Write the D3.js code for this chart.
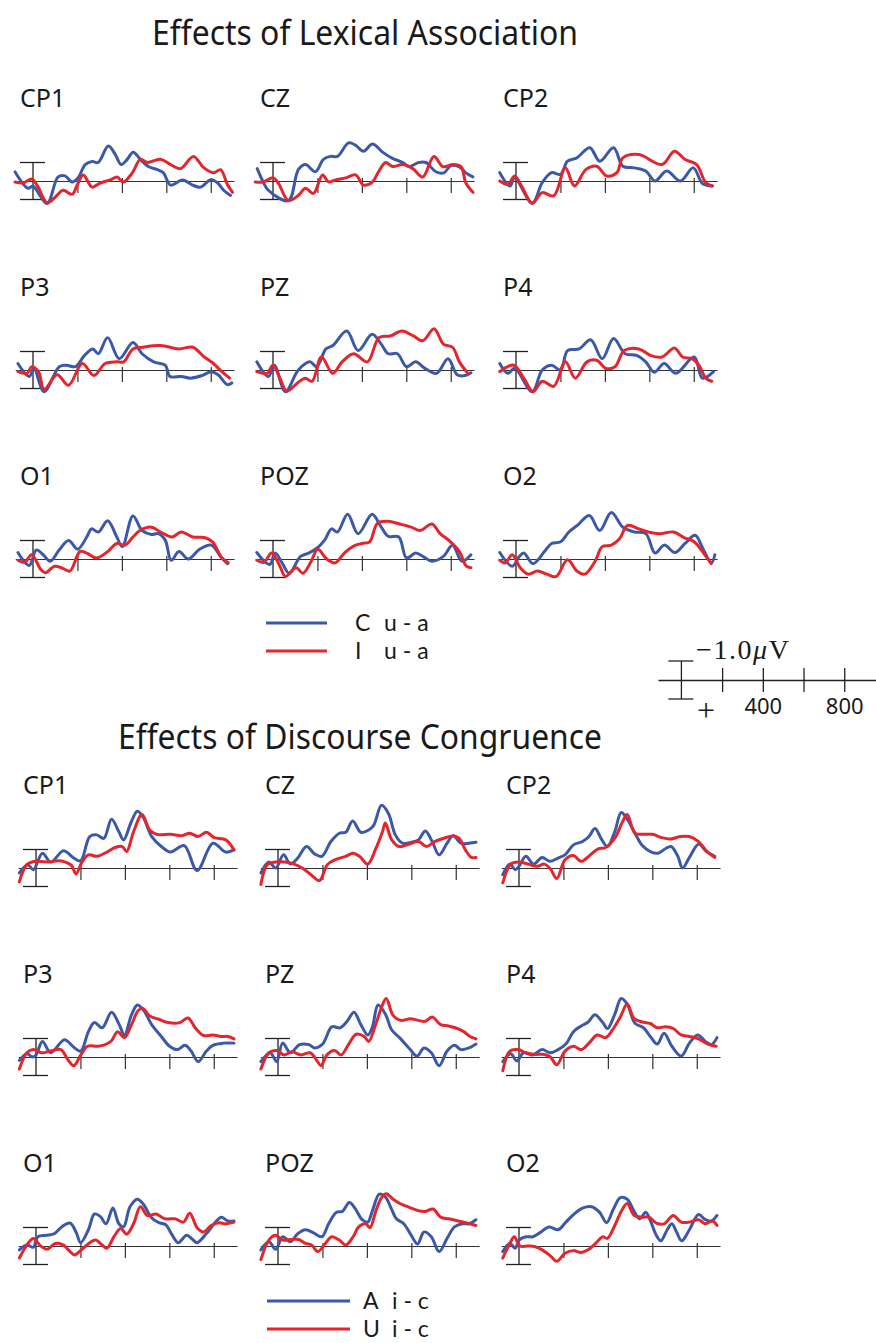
<!DOCTYPE html>
<html>
<head>
<meta charset="utf-8">
<script src="https://cdn.jsdelivr.net/npm/d3@7"></script>
<style>
html, body { margin: 0; padding: 0; background: #fff; }
svg { display: block; }
</style>
</head>
<body>
<div id="container"></div>
<script>
// electrode sites, same grid in both halves of the figure
const channels = ["CP1", "CZ", "CP2", "P3", "PZ", "P4", "O1", "POZ", "O2"];

// difference waves, [time in ms, amplitude in uV], negative plotted up
const lexicalC = [
  [[-81,-0.5],[-23,0.39],[0,0.28],[63,1.22],[113,-0.22],[144,-0.28],[176,0.06],[203,-0.17],[235,-0.89],[266,-1.06],[293,-1.0],[339,-1.89],[370,-1.44],[397,-0.89],[424,-1.17],[451,-1.56],[483,-1.17],[519,-0.78],[560,-0.61],[587,-0.44],[619,0.22],[673,-0.06],[718,0.22],[754,0.33],[799,-0.06],[831,0.11],[858,0.5],[889,0.78]],
  [[-71,-0.67],[-44,0.05],[-21,0.5],[69,1.06],[114,-0.61],[146,-0.89],[191,-0.5],[227,-1.17],[259,-1.33],[290,-1.33],[340,-2.06],[371,-1.94],[407,-1.61],[448,-2.0],[493,-1.56],[538,-1.22],[584,-1.0],[611,-0.78],[656,-1.0],[688,-1.0],[733,-0.5],[769,-0.44],[800,-0.83],[836,-0.78],[868,-0.44],[900,-0.22]],
  [[-73,-0.45],[-27,0.27],[-6,-0.18],[73,1.2],[118,0.09],[160,-0.45],[201,-0.36],[232,-1.07],[274,-1.25],[332,-1.8],[377,-1.07],[439,-1.8],[481,-0.8],[533,-0.71],[584,-0.54],[626,0],[678,-0.54],[740,0],[798,-0.71],[839,0.14],[881,0.27]],
  [[-68,-0.35],[-17,0.35],[4,-0.09],[50,1.17],[118,-0.18],[149,-0.26],[191,-0.18],[232,-0.79],[269,-1.14],[294,-0.88],[336,-1.75],[388,-0.61],[450,-1.49],[491,-0.88],[543,-0.44],[595,-0.26],[616,0.35],[667,0.35],[709,0.44],[761,0.3],[802,0.09],[833,0.26],[875,0.79],[895,0.7]],
  [[-73,-0.44],[-21,0.35],[6,-0.26],[56,1.17],[114,0],[166,-0.44],[197,-0.18],[238,-1.14],[269,-1.32],[332,-2.11],[383,-1.05],[446,-1.93],[487,-1.4],[518,-0.88],[560,-0.88],[601,-0.18],[642,-0.44],[684,-0.09],[736,0.18],[788,-0.61],[829,0.26],[865,0.3],[891,0.15]],
  [[-73,-0.35],[-37,0.18],[-6,-0.09],[73,1.17],[118,0],[160,-0.26],[201,0],[232,-1.05],[284,-1.14],[336,-1.63],[388,-0.61],[439,-1.7],[491,-0.88],[543,-0.79],[584,-0.44],[622,0.12],[667,-0.35],[719,0.18],[802,-0.7],[839,0.44],[889,0.09]],
  [[-68,-0.35],[-17,0.35],[15,-0.49],[46,-0.23],[77,0.12],[118,-0.49],[160,-1.0],[201,-0.53],[242,-1.19],[263,-1.63],[294,-1.46],[336,-2.07],[377,-1.19],[402,-0.67],[450,-2.33],[491,-1.54],[533,-1.33],[564,-1.37],[595,-1.02],[622,0.07],[657,-0.4],[699,0],[750,-0.53],[802,-0.75],[844,-0.14],[875,0.25]],
  [[-73,-0.35],[-15,0.3],[10,-0.32],[41,0.21],[73,0.77],[124,-0.14],[160,-0.32],[197,-0.58],[234,-1.05],[263,-1.63],[290,-1.46],[336,-2.42],[383,-1.37],[446,-2.42],[483,-1.81],[518,-1.23],[566,-1.19],[601,-0.05],[642,-0.32],[680,-0.1],[715,0.12],[767,-0.14],[808,-0.74],[850,0.12],[891,-0.23]],
  [[-73,-0.35],[-17,0.39],[15,-0.14],[35,-0.32],[77,0.25],[128,-0.4],[160,-0.84],[201,-0.93],[238,-1.46],[280,-1.86],[330,-2.35],[377,-1.54],[429,-2.51],[481,-1.72],[533,-1.46],[584,-1.37],[626,-0.32],[667,-0.75],[715,-0.35],[761,-0.84],[806,-1.28],[844,-0.49],[879,0.21],[895,-0.23]]
];

const lexicalI = [
  [[-81,0.05],[-45,0.1],[-5,-0.1],[23,0.33],[63,1.17],[99,0.89],[135,0.5],[176,0.72],[199,0.22],[226,-0.33],[266,0.33],[302,0.11],[348,-0.06],[379,-0.22],[406,0.06],[447,-0.44],[483,-1.17],[515,-1.0],[573,-1.17],[619,-0.89],[664,-0.67],[722,-1.33],[768,-0.72],[813,-0.44],[844,-0.61],[876,0.22],[898,0.61]],
  [[-80,0.05],[-44,0.05],[1,-0.17],[24,0.11],[69,1.06],[114,0.78],[146,0.39],[182,0.67],[223,-0.33],[250,0.05],[281,-0.06],[327,-0.17],[372,-0.33],[407,0.22],[448,0.05],[475,-0.5],[507,-1.0],[538,-0.78],[584,-0.89],[629,-0.67],[674,-0.22],[724,-1.33],[765,-0.78],[810,-0.89],[846,-0.78],[868,0.11],[900,0.61]],
  [[-73,0],[-37,0.18],[-6,-0.27],[25,0.27],[73,1.2],[118,0.63],[170,0.8],[222,-0.71],[263,0.27],[315,-0.63],[363,-0.8],[408,-0.27],[454,-0.45],[481,-1.25],[553,-1.43],[657,-0.89],[713,-1.61],[761,-1.16],[813,-0.89],[854,0.09],[885,0.27]],
  [[-68,0.09],[-27,0.18],[-6,-0.18],[25,0.09],[50,1.05],[108,0.26],[160,0.82],[222,-0.35],[274,0.3],[325,-0.35],[377,-0.44],[408,-0.44],[450,-1.14],[491,-1.23],[574,-1.32],[657,-1.14],[719,-1.23],[771,-0.7],[812,-0.35],[850,0.09],[885,0.44]],
  [[-73,0.09],[-27,0.18],[0,-0.26],[31,0.44],[62,1.14],[110,0.7],[145,0.44],[176,0.61],[218,-0.7],[269,0.18],[311,-0.44],[363,-0.88],[425,-0.44],[477,-1.75],[528,-1.84],[580,-2.11],[632,-1.84],[674,-1.58],[725,-2.23],[767,-1.4],[808,-1.23],[839,-0.44],[877,0.18]],
  [[-73,0.09],[-10,-0.26],[35,0.44],[77,1.17],[118,0.61],[170,0.88],[222,-0.44],[267,0.44],[319,-0.44],[363,-0.53],[404,-0.09],[446,-0.18],[487,-1.05],[553,-1.14],[605,-0.79],[657,-0.7],[713,-1.19],[750,-0.7],[792,-0.61],[823,-0.26],[854,0.44],[881,0.61]],
  [[-68,0.07],[-37,0.18],[-6,-0.23],[35,0.56],[56,0.74],[97,0.39],[128,0.47],[166,0.65],[211,-0.4],[242,-0.32],[284,-0.05],[336,-0.4],[377,-0.84],[415,-0.75],[450,-1.19],[481,-1.54],[533,-1.72],[574,-1.46],[626,-1.19],[667,-1.46],[719,-1.19],[771,-1.16],[808,-0.93],[850,-0.05],[879,0.21]],
  [[-73,0.07],[-41,0.18],[-6,-0.32],[31,0.39],[56,0.95],[104,0.47],[135,0.77],[172,0.12],[201,-0.53],[242,0],[280,0.21],[321,-0.32],[363,-0.7],[400,-0.84],[435,-0.93],[470,-1.93],[518,-2.04],[570,-1.89],[622,-1.72],[663,-1.54],[715,-1.89],[752,-1.37],[794,-0.98],[839,-0.4],[870,0.39],[891,0.47]],
  [[-73,0.07],[-48,0.21],[-17,-0.23],[19,0.47],[56,0.82],[97,0.65],[139,0.82],[180,0.95],[232,0.04],[274,0.65],[309,0.82],[356,0.12],[388,-0.67],[429,-0.75],[466,-1.1],[502,-1.81],[553,-1.63],[595,-1.46],[647,-1.37],[709,-1.46],[756,-1.16],[802,-0.93],[844,-0.32],[879,0.25]]
];

const discourseA = [
  [[-75,0.27],[-37,-0.18],[-12,0.09],[29,-0.8],[66,-0.32],[124,-0.93],[170,-0.54],[201,-0.39],[242,-1.7],[274,-1.79],[305,-1.6],[340,-2.64],[373,-1.96],[394,-1.52],[429,-2.5],[456,-3.07],[481,-2.77],[522,-1.68],[564,-1.16],[605,-0.86],[667,-1.21],[725,0.14],[796,-1.34],[854,-0.86],[891,-0.98]],
  [[-77,0.27],[-41,-0.32],[-10,0],[25,-0.71],[56,-0.21],[89,-0.54],[128,-1.16],[166,-0.75],[197,-0.63],[238,-1.43],[276,-1.88],[305,-1.93],[336,-2.54],[373,-1.93],[408,-2.05],[431,-2.32],[466,-3.39],[497,-2.95],[528,-1.79],[560,-1.34],[601,-1.39],[632,-1.52],[663,-2.0],[694,-1.43],[725,-0.71],[761,-1.34],[788,-1.75],[823,-1.34],[860,-1.34],[891,-1.39]],
  [[-73,0.36],[-41,-0.21],[-17,0.09],[0,-0.09],[31,-0.63],[66,-0.21],[104,-0.57],[139,-0.36],[176,-0.54],[207,-0.71],[245,-1.25],[286,-1.43],[315,-1.7],[342,-2.14],[373,-1.52],[398,-1.16],[431,-1.96],[460,-3.0],[487,-2.64],[522,-1.88],[555,-1.21],[591,-0.89],[626,-0.8],[659,-1.04],[684,-1.16],[715,-0.63],[736,0],[767,-0.57],[808,-1.29],[844,-0.89],[881,-0.63]],
  [[-75,0.18],[-41,-0.18],[-17,0],[0,-0.11],[29,-0.84],[66,-0.23],[128,-0.93],[170,-0.53],[201,-0.32],[236,-1.37],[263,-1.86],[298,-1.58],[340,-2.42],[373,-1.79],[398,-1.19],[429,-2.25],[456,-2.81],[485,-2.51],[522,-1.72],[564,-1.11],[601,-0.58],[636,-0.4],[671,-0.63],[698,-0.32],[730,0.25],[767,-0.32],[796,-0.63],[844,-0.75],[891,-0.75]],
  [[-77,0.25],[-35,-0.23],[-6,0.25],[21,-0.75],[56,-0.23],[97,-0.67],[139,-0.67],[166,-0.49],[201,-0.7],[242,-1.63],[280,-1.58],[311,-1.93],[342,-2.42],[373,-1.75],[404,-1.19],[425,-1.63],[450,-2.81],[483,-2.33],[512,-1.46],[549,-1.02],[591,-0.46],[626,-0.05],[657,-0.49],[690,-0.23],[725,0.47],[761,-0.32],[794,-0.63],[823,-0.4],[860,-0.49],[891,-0.7]],
  [[-73,0.25],[-37,-0.18],[-10,0.21],[21,-0.23],[62,-0.11],[104,-0.4],[141,-0.23],[176,-0.4],[211,-0.7],[245,-1.37],[280,-1.68],[311,-1.89],[342,-2.28],[377,-1.86],[398,-1.54],[429,-2.25],[460,-3.16],[487,-2.86],[522,-1.82],[560,-1.58],[591,-1.11],[622,-0.7],[653,-1.28],[688,-0.58],[730,-0.05],[767,-0.75],[804,-1.19],[839,-0.84],[866,-0.67],[891,-1.05]],
  [[-75,0.21],[-41,-0.05],[-12,0.07],[8,-0.5],[46,-0.58],[83,-0.67],[118,-1.06],[153,-1.24],[180,-0.76],[201,-0.18],[236,-0.88],[263,-1.73],[290,-1.59],[315,-1.2],[346,-2.05],[373,-1.2],[394,-1.03],[423,-2.12],[456,-2.53],[485,-2.23],[518,-1.56],[553,-1.26],[584,-1.15],[609,-0.67],[640,-0.18],[678,-0.58],[705,-0.35],[725,-0.18],[767,-0.67],[802,-1.2],[833,-1.56],[864,-1.35],[891,-1.35]],
  [[-77,0.21],[-41,-0.23],[-10,0.18],[21,-0.5],[56,-0.23],[89,-0.67],[124,-0.88],[160,-0.71],[197,-0.5],[228,-1.2],[263,-1.82],[290,-1.87],[321,-2.35],[346,-2.05],[379,-1.42],[404,-1.29],[425,-1.91],[456,-2.8],[483,-2.66],[508,-2.07],[533,-1.47],[566,-1.2],[595,-0.67],[628,-0.11],[657,-0.76],[690,-0.5],[725,0.3],[761,-0.41],[794,-1.03],[829,-1.2],[860,-1.2],[891,-1.42]],
  [[-73,0.3],[-41,-0.14],[-17,0.12],[0,-0.32],[31,-0.5],[62,-0.5],[93,-0.71],[135,-1.03],[176,-0.88],[211,-1.29],[245,-1.7],[286,-2.05],[327,-2.12],[363,-1.82],[394,-1.26],[425,-2.0],[456,-2.62],[487,-2.53],[518,-1.87],[543,-1.47],[570,-1.82],[591,-1.38],[618,-0.58],[638,-0.28],[667,-0.88],[688,-1.2],[709,-0.76],[732,-0.28],[767,-0.88],[808,-1.7],[839,-1.42],[866,-1.35],[891,-1.65]]
];

const discourseU = [
  [[-75,0.75],[-41,-0.18],[0,-0.36],[62,-0.32],[97,-0.39],[133,-0.32],[160,-0.14],[180,0.32],[207,-0.32],[236,-0.71],[274,-0.63],[319,-0.86],[356,-1.11],[388,-1.16],[408,-0.89],[439,-1.96],[477,-2.89],[512,-2.05],[543,-1.82],[605,-1.82],[657,-1.75],[692,-1.88],[730,-1.7],[767,-1.93],[802,-1.64],[854,-1.52],[891,-0.98]],
  [[-77,0.89],[-48,-0.18],[-10,-0.32],[31,-0.32],[73,-0.21],[114,0.04],[151,0.39],[187,0.68],[222,-0.18],[259,-0.45],[305,-0.63],[338,-0.8],[367,-0.63],[404,-0.21],[441,-1.07],[470,-1.96],[483,-2.43],[512,-1.52],[545,-1.16],[591,-1.29],[632,-1.43],[669,-1.16],[705,-1.43],[746,-1.61],[788,-1.73],[814,-1.61],[846,-0.93],[870,-0.57],[891,-0.57]],
  [[-73,0.8],[-37,-0.21],[0,-0.32],[41,-0.21],[83,-0.09],[114,-0.21],[141,0.04],[170,0.57],[207,-0.45],[245,-0.68],[280,-0.36],[321,-0.71],[356,-1.04],[390,-1.11],[431,-1.61],[466,-2.5],[487,-2.89],[522,-1.88],[560,-1.82],[601,-1.82],[642,-1.64],[684,-1.57],[725,-1.7],[767,-1.7],[808,-1.43],[846,-0.89],[881,-0.57]],
  [[-75,0.65],[-41,-0.23],[-12,-0.4],[25,-0.23],[66,-0.32],[112,-0.4],[145,0.18],[170,0.47],[203,-0.14],[232,-0.58],[278,-0.58],[311,-0.67],[340,-0.88],[367,-1.37],[398,-1.05],[429,-1.72],[460,-2.51],[481,-2.63],[512,-2.21],[553,-2.04],[595,-1.86],[647,-1.86],[684,-2.11],[719,-1.54],[754,-1.16],[796,-1.19],[833,-1.11],[864,-1.11],[891,-0.98]],
  [[-77,0.65],[-41,-0.23],[-6,-0.35],[27,-0.11],[62,-0.28],[104,-0.11],[145,-0.23],[176,0.21],[193,0.47],[222,-0.14],[255,-0.35],[284,-0.11],[317,-0.67],[352,-1.23],[388,-1.11],[408,-0.84],[441,-1.81],[466,-2.68],[487,-3.16],[518,-2.25],[553,-1.98],[595,-2.07],[632,-1.98],[663,-1.93],[694,-2.16],[732,-1.75],[767,-1.68],[798,-1.58],[836,-1.37],[864,-1.11],[891,-0.98]],
  [[-73,0.74],[-41,-0.32],[-4,-0.4],[31,-0.23],[73,-0.14],[114,-0.14],[141,0],[170,0.42],[207,-0.32],[245,-0.58],[280,-0.4],[315,-0.75],[352,-1.19],[390,-1.05],[425,-1.54],[456,-2.16],[487,-2.86],[518,-2.07],[555,-1.89],[591,-1.81],[622,-1.58],[659,-1.63],[694,-1.54],[730,-1.19],[767,-1.11],[808,-0.98],[850,-0.7],[887,-0.58]],
  [[-75,0.65],[-41,-0.05],[-12,-0.41],[21,0],[50,0.18],[87,-0.14],[124,-0.05],[153,0.3],[174,0.48],[207,0.18],[242,-0.18],[269,-0.32],[298,-0.05],[319,0.12],[352,-0.53],[381,-0.94],[408,-0.64],[439,-1.2],[470,-2.12],[502,-1.65],[540,-1.73],[580,-1.47],[626,-1.47],[663,-1.29],[692,-1.77],[725,-0.99],[754,-0.76],[788,-1.11],[823,-1.26],[854,-1.2],[891,-1.29]],
  [[-77,0.74],[-41,-0.32],[-10,-0.58],[21,-0.32],[56,-0.35],[93,-0.35],[124,-0.14],[151,-0.05],[180,0.3],[213,-0.14],[242,-0.5],[276,-0.32],[305,-0.05],[338,-0.5],[363,-1.03],[394,-1.2],[414,-0.99],[441,-1.91],[466,-2.62],[487,-2.83],[518,-2.53],[553,-2.27],[591,-2.09],[632,-1.91],[663,-1.87],[698,-2.0],[732,-1.56],[767,-1.47],[802,-1.38],[836,-1.29],[864,-1.2],[891,-1.11]],
  [[-73,0.65],[-41,-0.14],[-21,-0.5],[4,0],[41,0],[73,0.04],[104,0.21],[141,0.53],[170,0.83],[207,0.39],[245,0.25],[280,0.35],[315,0.18],[348,-0.18],[377,-0.5],[398,-0.41],[431,-1.11],[460,-1.87],[487,-2.3],[518,-1.65],[555,-1.56],[584,-1.56],[618,-1.24],[653,-1.2],[694,-1.65],[730,-1.29],[767,-1.29],[808,-1.42],[839,-1.2],[870,-1.35],[891,-1.11]]
];

const timeTicks = [200, 400, 600, 800];
const timeDomain = [-80, 905];
const scaleBarTicks = [200, 400, 600, 800];
const scaleBarLabels = [400, 800];
const lexicalLegend = [["C", "u - a"], ["I", "u - a"]];
const discourseLegend = [["A", "i - c"], ["U", "i - c"]];

const BLUE = "#3c58a8";
const RED = "#e4252b";
const W = 876, H = 1343;
const PX_PER_MS = 0.2222;
const PX_PER_UV = 18.5;

const svg = d3.select("#container").append("svg")
    .attr("width", W)
    .attr("height", H)
    .style("font-family", "'Noto Sans', 'Open Sans', sans-serif");

const sections = [
    { title: "Effects of Lexical Association", titleX: 365, titleY: 45, titleW: 426,
      blue: lexicalC, red: lexicalI, cols: [33, 273, 516], rows: [181, 370, 559],
      legend: lexicalLegend, legendX: 266, legendLen: 61, legendY: [623, 651], textX: 355 },
    { title: "Effects of Discourse Congruence", titleX: 360, titleY: 749, titleW: 484,
      blue: discourseA, red: discourseU, cols: [36, 278, 519], rows: [868, 1057, 1246],
      legend: discourseLegend, legendX: 267, legendLen: 83, legendY: [1301, 1329], textX: 363 }
];

const drawPanel = (g, bx, base, name, blueData, redData) => {
    const x = d3.scaleLinear()
        .domain(timeDomain)
        .range([bx + timeDomain[0] * PX_PER_MS, bx + timeDomain[1] * PX_PER_MS]);
    const y = d3.scaleLinear().domain([-1, 1]).range([base - PX_PER_UV, base + PX_PER_UV]);

    g.append("text")
        .attr("x", bx - 13)
        .attr("y", base - 74)
        .attr("font-size", 25)
        .attr("fill", "#1a1a1a")
        .text(name);

    // time axis with 200 ms ticks
    const axis = g.append("g")
        .attr("transform", `translate(0,${base})`)
        .call(d3.axisBottom(x).tickValues(timeTicks).tickSize(12).tickSizeOuter(0).tickFormat(""));
    axis.select(".domain").attr("stroke", "#333").attr("stroke-width", 1.2);
    axis.selectAll(".tick line").attr("y1", -3).attr("stroke", "#333").attr("stroke-width", 1.2);

    // amplitude bar at stimulus onset
    const x0 = x(0);
    const bar = g.append("g").attr("stroke", "#222").attr("stroke-width", 1.3);
    bar.append("line").attr("x1", x0).attr("x2", x0).attr("y1", y(-1)).attr("y2", y(1));
    bar.append("line").attr("x1", x0 - 13).attr("x2", x0 + 12).attr("y1", y(-1)).attr("y2", y(-1));
    bar.append("line").attr("x1", x0 - 13).attr("x2", x0 + 12).attr("y1", y(1)).attr("y2", y(1));

    const line = d3.line()
        .x((d) => x(d[0]))
        .y((d) => y(d[1]))
        .curve(d3.curveCatmullRom.alpha(0.5));

    g.selectAll("path.wave")
        .data([{ d: blueData, c: BLUE }, { d: redData, c: RED }])
        .join("path")
        .attr("class", "wave")
        .attr("fill", "none")
        .attr("stroke", (s) => s.c)
        .attr("stroke-width", 3)
        .attr("stroke-linejoin", "round")
        .attr("stroke-linecap", "round")
        .attr("d", (s) => line(s.d));
};

sections.forEach((sec) => {
    const g = svg.append("g");
    g.append("text")
        .attr("x", sec.titleX)
        .attr("y", sec.titleY)
        .attr("text-anchor", "middle")
        .attr("font-size", 34)
        .attr("fill", "#1a1a1a")
        .attr("textLength", sec.titleW)
        .attr("lengthAdjust", "spacingAndGlyphs")
        .text(sec.title);

    channels.forEach((ch, i) => {
        const bx = sec.cols[i % 3];
        const base = sec.rows[Math.floor(i / 3)];
        drawPanel(g.append("g"), bx, base, ch, sec.blue[i], sec.red[i]);
    });

    // legend
    sec.legend.forEach((lab, i) => {
        const ly = sec.legendY[i];
        g.append("line")
            .attr("x1", sec.legendX).attr("x2", sec.legendX + sec.legendLen)
            .attr("y1", ly).attr("y2", ly)
            .attr("stroke", i === 0 ? BLUE : RED)
            .attr("stroke-width", 3);
        const t = g.append("text")
            .attr("y", ly + 8)
            .attr("font-family", "Lato, 'Noto Sans', sans-serif")
            .attr("font-size", 23)
            .attr("fill", "#1a1a1a");
        t.append("tspan").attr("x", sec.textX).text(lab[0]);
        t.append("tspan").attr("x", sec.textX + 29).text(lab[1]);
    });
});

// calibration: time and amplitude scale
const sb = svg.append("g");
const sbx = d3.scaleLinear().domain([-115, 956]).range([658, 876]);
const sbBase = 680;
const sbAxis = sb.append("g")
    .attr("transform", `translate(0,${sbBase})`)
    .call(d3.axisBottom(sbx).tickValues(scaleBarTicks).tickSize(12).tickSizeOuter(0)
        .tickFormat((d) => (scaleBarLabels.includes(d) ? d : "")));
sbAxis.select(".domain").attr("stroke", "#222").attr("stroke-width", 1.3);
sbAxis.selectAll(".tick line").attr("y1", -12).attr("stroke", "#222").attr("stroke-width", 1.3);
sbAxis.selectAll(".tick text")
    .attr("y", 34).attr("dy", 0)
    .attr("font-size", 22)
    .attr("font-family", "'Noto Sans', sans-serif")
    .attr("fill", "#1a1a1a");

const sx0 = sbx(0);
const sb2 = sb.append("g").attr("stroke", "#222").attr("stroke-width", 1.3);
sb2.append("line").attr("x1", sx0).attr("x2", sx0).attr("y1", sbBase - 19).attr("y2", sbBase + 19);
sb2.append("line").attr("x1", sx0 - 13).attr("x2", sx0 + 12).attr("y1", sbBase - 19).attr("y2", sbBase - 19);
sb2.append("line").attr("x1", sx0 - 13).attr("x2", sx0 + 12).attr("y1", sbBase + 19).attr("y2", sbBase + 19);

const uv = sb.append("text")
    .attr("x", 696)
    .attr("y", 659)
    .attr("font-family", "'Liberation Serif', 'DejaVu Serif', serif")
    .attr("font-size", 28)
    .attr("textLength", 93)
    .attr("fill", "#1a1a1a");
uv.append("tspan").text("\u22121.0");
uv.append("tspan").attr("font-style", "italic").text("\u03bc");
uv.append("tspan").text("V");

sb.append("text")
    .attr("x", 706)
    .attr("y", 721)
    .attr("text-anchor", "middle")
    .attr("font-family", "'Liberation Serif', 'DejaVu Serif', serif")
    .attr("font-size", 32)
    .attr("fill", "#1a1a1a")
    .text("+");
</script>
</body>
</html>
